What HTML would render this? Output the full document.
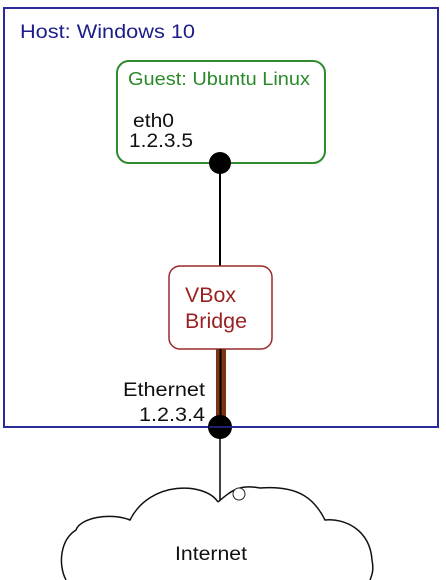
<!DOCTYPE html>
<html><head><style>
html,body{margin:0;padding:0;background:#fff;}
svg{display:block;}
text{font-family:"Liberation Sans",Arial,sans-serif;}
</style></head><body>
<svg width="446" height="580" viewBox="0 0 446 580" xmlns="http://www.w3.org/2000/svg">
<rect x="4" y="8" width="434" height="419" fill="#fff" stroke="#2a2a9a" stroke-width="2"/>
<text x="20" y="38" font-size="19.5" fill="#1d1d8a" textLength="175" lengthAdjust="spacingAndGlyphs">Host: Windows 10</text>
<rect x="117" y="61" width="208" height="102" rx="12" fill="#fff" stroke="#2e8b2e" stroke-width="2"/>
<text x="128" y="85" font-size="18" fill="#2a8a2a" textLength="182" lengthAdjust="spacingAndGlyphs">Guest: Ubuntu Linux</text>
<text x="133" y="127" font-size="19" fill="#111" textLength="41" lengthAdjust="spacingAndGlyphs">eth0</text>
<text x="129" y="147" font-size="19" fill="#111" textLength="64" lengthAdjust="spacingAndGlyphs">1.2.3.5</text>
<line x1="220" y1="163" x2="220" y2="266" stroke="#000" stroke-width="2"/>
<circle cx="220" cy="163" r="11" fill="#000"/>
<rect x="169" y="266" width="103" height="83" rx="11" fill="#fff" stroke="#9a2a2a" stroke-width="1.5"/>
<text x="185" y="302" font-size="21" fill="#9a2222" textLength="51" lengthAdjust="spacingAndGlyphs">VBox</text>
<text x="185" y="328" font-size="21" fill="#9a2222" textLength="62" lengthAdjust="spacingAndGlyphs">Bridge</text>
<rect x="216" y="349" width="10" height="77" fill="#7a3410"/>
<line x1="220.5" y1="349" x2="220.5" y2="426" stroke="#000" stroke-width="2"/>
<text x="123" y="396" font-size="19" fill="#111" textLength="82" lengthAdjust="spacingAndGlyphs">Ethernet</text>
<text x="139" y="421" font-size="19" fill="#111" textLength="66" lengthAdjust="spacingAndGlyphs">1.2.3.4</text>
<line x1="220" y1="427" x2="220" y2="502" stroke="#000" stroke-width="1.5"/>
<circle cx="220" cy="427" r="12" fill="#000"/>
<line x1="209" y1="427" x2="232" y2="427" stroke="#2a2a9a" stroke-width="1.5"/>
<path d="M218,502 C205,482 150,480 130,520 C110,512 80,518 76,530 C60,540 58,565 66,580 M218,502 C232,490 240,484 260,488 C300,485 315,500 325,520 C345,518 370,530 372,560 C374,570 372,575 370,580" fill="#fff" stroke="#111" stroke-width="1.5"/>
<circle cx="239" cy="494" r="6" fill="#fff" stroke="#222" stroke-width="1"/>
<text x="175" y="560" font-size="19" fill="#111" textLength="72" lengthAdjust="spacingAndGlyphs">Internet</text>
</svg>
</body></html>
